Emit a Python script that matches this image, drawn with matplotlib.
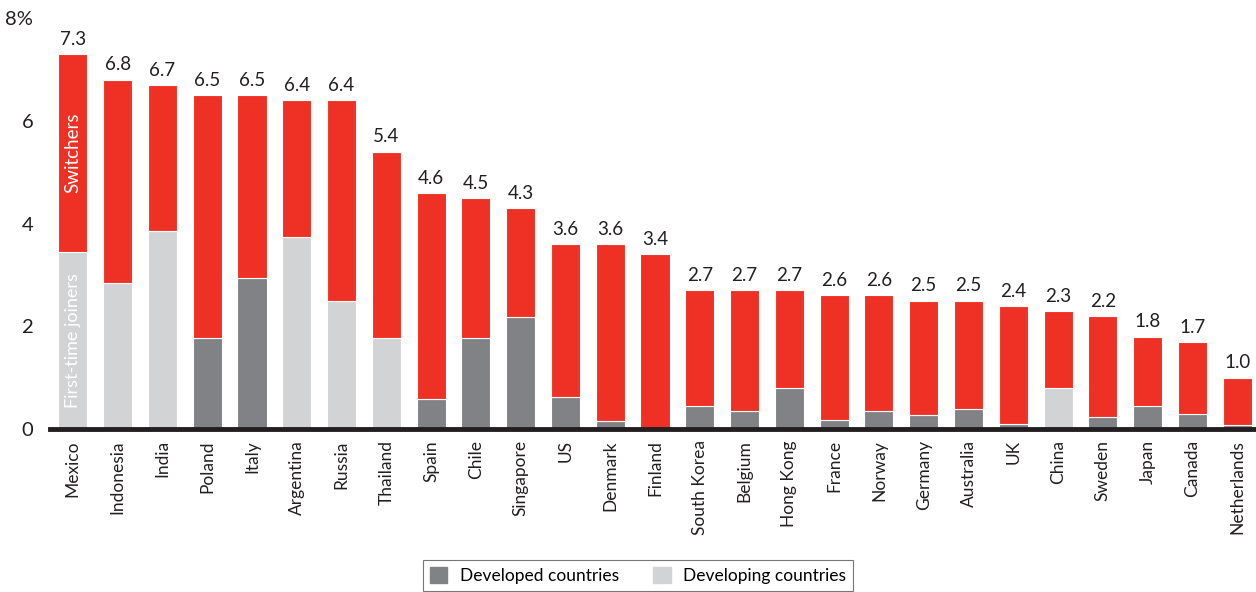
import numpy as np
import matplotlib.pyplot as plt
from matplotlib.patches import Patch

plt.rcParams.update({'font.size': 13, 'font.family': 'Lato'})

countries = ['Mexico', 'Indonesia', 'India', 'Poland', 'Italy', 'Argentina', 'Russia',
             'Thailand', 'Spain', 'Chile', 'Singapore', 'US', 'Denmark', 'Finland',
             'South Korea', 'Belgium', 'Hong Kong', 'France', 'Norway', 'Germany',
             'Australia', 'UK', 'China', 'Sweden', 'Japan', 'Canada', 'Netherlands']
totals = [7.3, 6.8, 6.7, 6.5, 6.5, 6.4, 6.4, 5.4, 4.6, 4.5, 4.3, 3.6, 3.6, 3.4,
          2.7, 2.7, 2.7, 2.6, 2.6, 2.5, 2.5, 2.4, 2.3, 2.2, 1.8, 1.7, 1.0]
# first-time joiners
first_time = [3.44, 2.85, 3.86, 1.77, 2.93, 3.73, 2.49, 1.77, 0.58, 1.77, 2.18, 0.62,
              0.16, 0.0, 0.45, 0.36, 0.79, 0.17, 0.35, 0.27, 0.39, 0.10, 0.79, 0.23,
              0.45, 0.29, 0.08]
developing = ['Mexico', 'Indonesia', 'India', 'Argentina', 'Russia', 'Thailand', 'China']

red, dark, light = '#EE3124', '#808285', '#D1D3D4'

x = np.arange(len(countries))
switchers = np.array(totals) - np.array(first_time)
base_colors = [light if c in developing else dark for c in countries]

fig = plt.figure(figsize=(12.56, 5.92), dpi=100)
ax = fig.add_axes([0.0398, 0.2753, 0.9602, 0.6943])

ax.bar(x, first_time, width=0.65, color=base_colors, edgecolor='white', linewidth=0.8)
ax.bar(x, switchers, bottom=first_time, width=0.65, color=red, edgecolor='white', linewidth=0.8)

for xi, t in zip(x, totals):
    ax.text(xi, t + 0.12, f'{t:.1f}', ha='center', va='bottom', fontsize=13.5, color='#231f20')

ax.text(0, first_time[0] + switchers[0] / 2, 'Switchers', rotation=90, ha='center',
        va='center', color='white', fontsize=13.5)
ax.text(0, first_time[0] / 2, 'First-time joiners', rotation=90, ha='center',
        va='center', color='white', fontsize=13)

ax.set_xlim(-0.51, 26.42)
ax.set_ylim(0, 8)
ax.set_yticks([0, 2, 4, 6, 8])
ax.set_yticklabels(['0', '2', '4', '6', '8%'])
ax.set_xticks(x)
ax.set_xticklabels(countries, rotation=90, fontsize=12.5)
ax.tick_params(axis='both', length=0, colors='#231f20')
ax.tick_params(axis='x', pad=8)
ax.tick_params(axis='y', pad=12, labelsize=14.5)
for s in ['top', 'right', 'left']:
    ax.spines[s].set_visible(False)
ax.spines['bottom'].set_linewidth(3.5)
ax.spines['bottom'].set_color('#231f20')

handles = [Patch(color=dark, label='Developed countries'),
           Patch(color=light, label='Developing countries')]
leg = fig.legend(handles=handles, loc='upper center', bbox_to_anchor=(0.508, 0.054),
                 ncol=2, frameon=True, fancybox=False, edgecolor='#555555',
                 fontsize=12.5, handlelength=1.0, handleheight=1.0, columnspacing=2.0,
                 borderpad=0.4, borderaxespad=0.0, handletextpad=0.7)
leg.get_frame().set_linewidth(0.8)

fig.savefig('out.png', dpi=100)
